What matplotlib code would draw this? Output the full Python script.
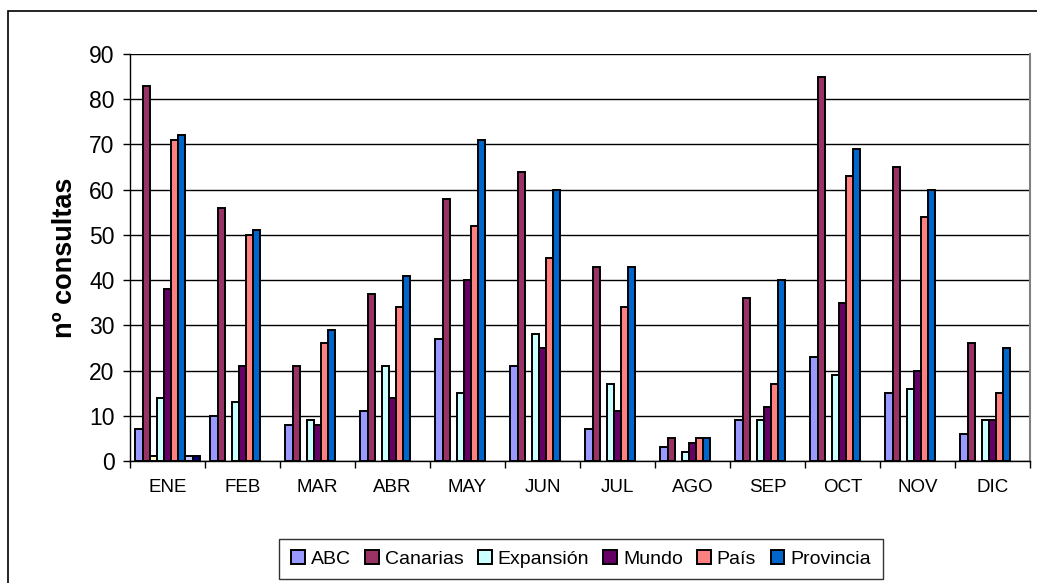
import numpy as np
import matplotlib
matplotlib.use('Agg')
import matplotlib.pyplot as plt
from matplotlib.patches import Rectangle

plt.rcParams['font.family'] = ['Liberation Sans', 'DejaVu Sans']

meses = ['ENE', 'FEB', 'MAR', 'ABR', 'MAY', 'JUN', 'JUL', 'AGO', 'SEP', 'OCT', 'NOV', 'DIC']

# series en el orden de las barras (las sin nombre no salen en la leyenda)
abc       = [7, 10, 8, 11, 27, 21, 7, 3, 9, 23, 15, 6]
canarias  = [83, 56, 21, 37, 58, 64, 43, 5, 36, 85, 65, 26]
amarilla  = [1, 0, 0, 0, 0, 0, 0, 0, 0, 0, 0, 0]
expansion = [14, 13, 9, 21, 15, 28, 17, 2, 9, 19, 16, 9]
mundo     = [38, 21, 8, 14, 40, 25, 11, 4, 12, 35, 20, 9]
pais      = [71, 50, 26, 34, 52, 45, 34, 5, 17, 63, 54, 15]
provincia = [72, 51, 29, 41, 71, 60, 43, 5, 40, 69, 60, 25]
lila      = [1, 0, 0, 0, 0, 0, 0, 0, 0, 0, 0, 0]
marino    = [1, 0, 0, 0, 0, 0, 0, 0, 0, 0, 0, 0]

series = [
    ('ABC', abc, '#9999FF'),
    ('Canarias', canarias, '#993366'),
    ('_amarilla', amarilla, '#FFFFCC'),
    ('Expansión', expansion, '#CCFFFF'),
    ('Mundo', mundo, '#660066'),
    ('País', pais, '#FF8080'),
    ('Provincia', provincia, '#0066CC'),
    ('_lila', lila, '#CCCCFF'),
    ('_marino', marino, '#000080'),
]

fig = plt.figure(figsize=(10.37, 5.83), dpi=100)
ax = fig.add_axes([130/1037, 1-461/583, 900/1037, 407/583])

x = np.arange(len(meses))
n = len(series)
w = 1/(n + 1.5)
for i, (nombre, vals, color) in enumerate(series):
    pos = x - n*w/2 + w*(i + 0.5)
    vals = np.array(vals, dtype=float)
    vals[vals == 0] = np.nan
    ax.bar(pos, vals, width=w, color=color, edgecolor='black', linewidth=1.4,
           label=nombre, zorder=3)

ax.set_xlim(-0.5, len(meses) - 0.5)
ax.set_ylim(0, 90)
ax.set_yticks(range(0, 91, 10))
ax.yaxis.grid(True, color='black', linewidth=1, zorder=0)
ax.tick_params(axis='y', labelsize=16.5, length=5, width=1, direction='out', pad=6)

ax.set_xticks(np.arange(-0.5, len(meses)), minor=False)
ax.set_xticklabels([])
ax.set_xticks(x, minor=True)
ax.set_xticklabels(meses, minor=True)
ax.tick_params(axis='x', which='major', length=5, width=1, direction='out')
ax.tick_params(axis='x', which='minor', length=0, labelsize=13.5, pad=13)

ax.spines['top'].set_visible(False)
ax.spines['right'].set_color('#808080')
ax.spines['right'].set_linewidth(1.5)
ax.spines['left'].set_linewidth(1)
ax.spines['bottom'].set_linewidth(1)

ax.set_ylabel('nº consultas', fontsize=19.5, fontweight='bold', labelpad=8)

leg = fig.legend(loc='center', bbox_to_anchor=(581/1037, 1-559/583), ncol=6,
                 fontsize=14, frameon=True, fancybox=False, handlelength=0.7,
                 handleheight=0.7, handletextpad=0.3, columnspacing=0.75,
                 borderpad=0.6, borderaxespad=0)
leg.get_frame().set_edgecolor('black')
leg.get_frame().set_linewidth(1)

# borde del área del gráfico
fig.patches.append(Rectangle((8/1037, -0.1), 1.1, 1.1 - 11/583, transform=fig.transFigure,
                             fill=False, edgecolor='black', linewidth=1.2, zorder=0))

fig.savefig('out.png', dpi=100)
